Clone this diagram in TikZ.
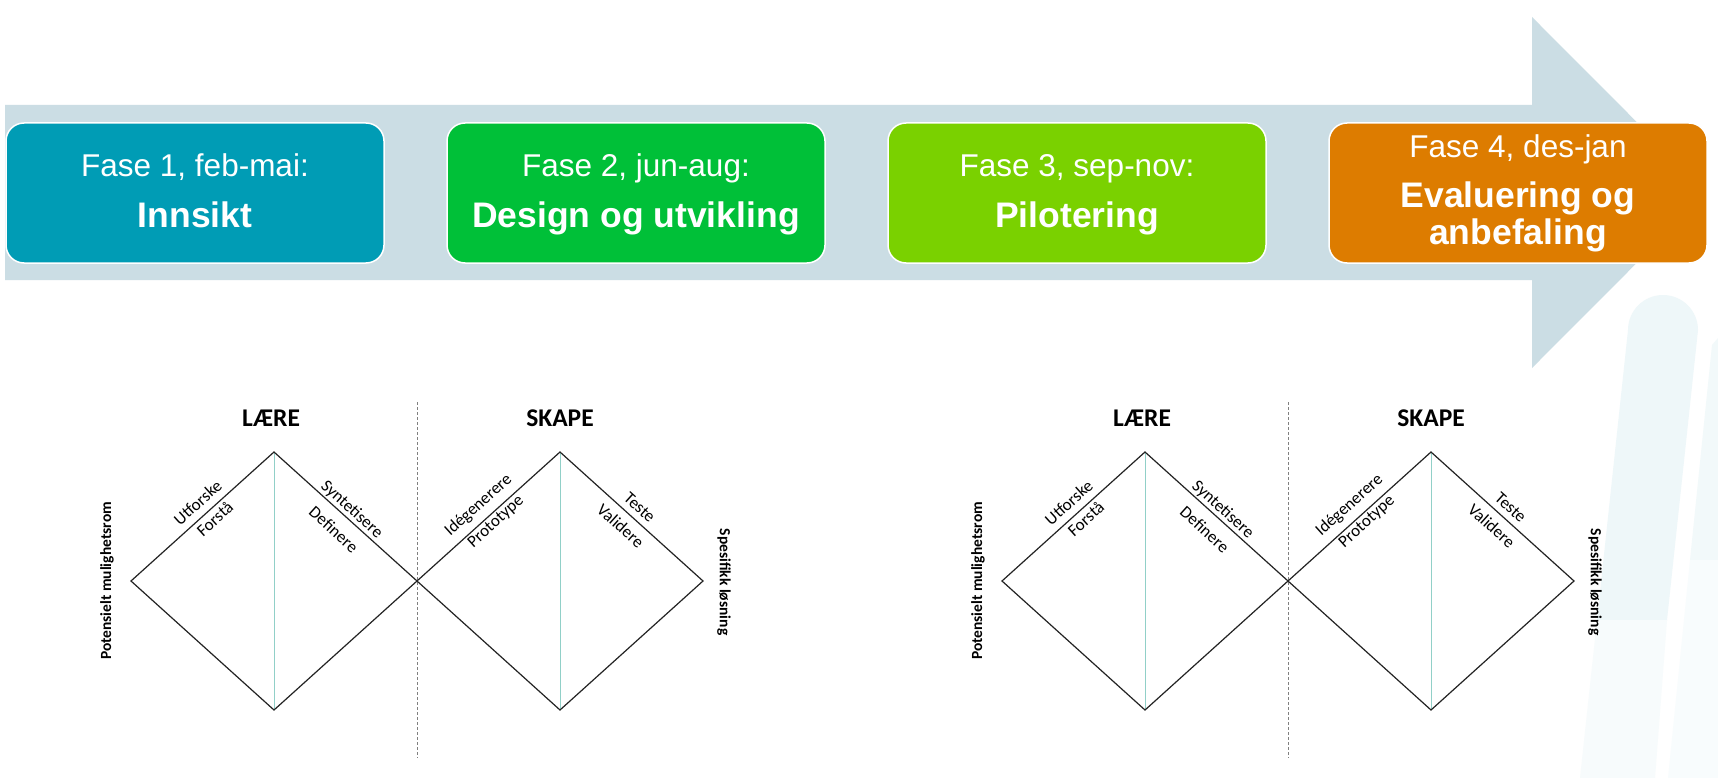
\documentclass[tikz,border=0pt]{standalone}
\usepackage{fontspec}
\setmainfont{Liberation Sans}
\newfontfamily\calibri{Carlito}
\definecolor{band}{RGB}{203,221,228}
\definecolor{fase1}{RGB}{0,156,181}
\definecolor{fase2}{RGB}{0,192,56}
\definecolor{fase3}{RGB}{122,209,0}
\definecolor{fase4}{RGB}{221,124,0}
\definecolor{strek}{RGB}{35,35,35}
\definecolor{midt}{RGB}{145,208,200}
\definecolor{stripe}{RGB}{238,247,249}
\tikzset{
	fase/.style={draw=white, line width=1.5pt, rounded corners=18pt, minimum width=378pt, minimum height=140pt}, % the coloured phase boxes
	tid/.style={text=white, anchor=base, font=\fontsize{31.5}{36}\selectfont},
	tittel/.style={text=white, anchor=base, font=\bfseries\fontsize{35.5}{37}\selectfont},
	diamant/.style={draw=strek, line width=1.2pt},
	midtlinje/.style={draw=midt, line width=0.7pt},
	skille/.style={draw=gray, line width=0.8pt, dash pattern=on 3pt off 2pt},
	etikett/.style={font=\calibri\fontsize{17}{20}\selectfont, sloped, inner sep=0pt}, % text along the diamond edges
	fasenavn/.style={font=\calibri\bfseries\fontsize{25.5}{30}\selectfont, anchor=base},
	akse/.style={font=\calibri\bfseries\fontsize{15.5}{18}\selectfont},
}

\begin{document}
\begin{tikzpicture}[x=1pt, y=-1pt]
	\useasboundingbox (0,0) rectangle (1718,778);
	\fill[white] (0,0) rectangle (1718,778);
	% faint stripes in the corner, lighter towards the bottom
	\fill[stripe] (1597,620) -- (1628,330) arc[start angle=180, end angle=360, radius=35] -- (1667,620) -- cycle;
	\fill[stripe!50!white] (1580,778) -- (1597,620) -- (1667,620) -- (1655,778) -- cycle;
	\fill[stripe!75!white] (1690,560) -- (1712,345) -- (1718,338) -- (1718,560) -- cycle;
	\fill[stripe!40!white] (1668,778) -- (1690,560) -- (1718,560) -- (1718,778) -- cycle;
	% the big arrow
	\fill[band] (5,105) -- (1532,105) -- (1532,17) -- (1707,192.5) -- (1532,368) -- (1532,280) -- (5,280) -- cycle;

	\node[fase, fill=fase1] (f1) at (195,193) {};
	\node[tid] (f1tid) at (195,177) {Fase 1, feb-mai:};
	\node[tittel] (f1navn) at (195,227) {Innsikt};
	\node[fase, fill=fase2] (f2) at (636,193) {};
	\node[tid] (f2tid) at (636,177) {Fase 2, jun-aug:};
	\node[tittel] (f2navn) at (636,227) {Design og utvikling};
	\node[fase, fill=fase3] (f3) at (1077,193) {};
	\node[tid] (f3tid) at (1077,177) {Fase 3, sep-nov:};
	\node[tittel] (f3navn) at (1077,227) {Pilotering};
	\node[fase, fill=fase4] (f4) at (1518,193) {};
	\node[tid] (f4tid) at (1518,158) {Fase 4, des-jan};
	\node[tittel, anchor=north, align=center, inner sep=0pt] (f4navn) at (1518,182) {Evaluering og\\anbefaling};

	% the double diamond, twice
	\foreach \dx/\n in {0/a, 871/b}{
		\coordinate (ve\n) at ({131+\dx},581);
		\coordinate (t1\n) at ({274+\dx},452);
		\coordinate (m\n) at ({417+\dx},581);
		\coordinate (b1\n) at ({274+\dx},710);
		\coordinate (t2\n) at ({560+\dx},452);
		\coordinate (h\n) at ({703+\dx},581);
		\coordinate (b2\n) at ({560+\dx},710);
		\coordinate (sto\n) at ({417+\dx},402);
		\coordinate (sbu\n) at ({417+\dx},758);
		\draw[skille] (sto\n) -- (sbu\n);
		\draw[midtlinje] (t1\n) -- (b1\n) (t2\n) -- (b2\n);
		\draw[diamant] (ve\n) -- node[etikett, pos=.53, above=7pt]{Utforske} node[etikett, pos=.54, below=3pt]{Forstå} (t1\n)
			-- node[etikett, above=1.3pt]{Syntetisere} node[etikett, below=11pt]{Definere} (m\n) -- (b1\n) -- cycle;
		\draw[diamant] (m\n) -- node[etikett, above=7pt]{Idégenerere} node[etikett, pos=.51, below=1.8pt]{Prototype} (t2\n)
			-- node[etikett, above=6pt]{Teste} node[etikett, pos=.49, below=7.5pt]{Validere} (h\n) -- (b2\n) -- cycle;
		\node[fasenavn] (laere\n) at ({271+\dx},426) {LÆRE};
		\node[fasenavn] (skape\n) at ({560+\dx},426) {SKAPE};
		\node[akse, rotate=90] (rom\n) at ({107+\dx},581) {Potensielt mulighetsrom};
		\node[akse, rotate=-90] (losning\n) at ({724+\dx},582) {Spesifikk løsning};
	}
\end{tikzpicture}
\end{document}
